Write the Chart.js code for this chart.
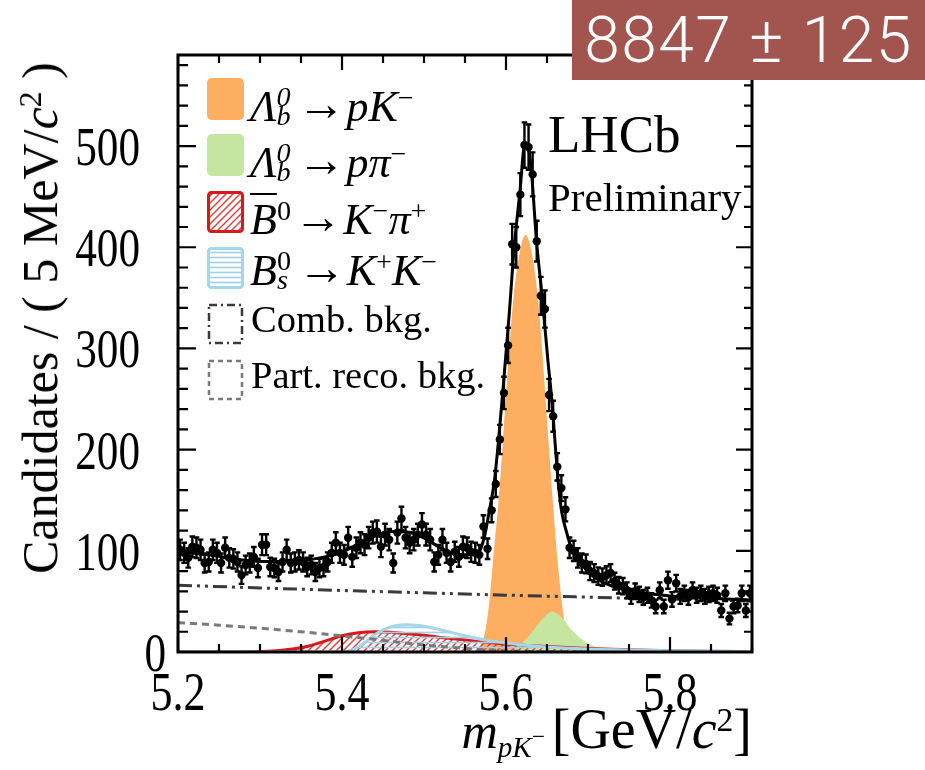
<!DOCTYPE html>
<html>
<head>
<meta charset="utf-8">
<script src="https://cdn.jsdelivr.net/npm/chart.js@4.4.0/dist/chart.umd.min.js"></script>
<style>
  body { margin: 0; background: #fff; }
  #wrap { position: relative; width: 925px; height: 770px; overflow: hidden; }
  #plot { position: absolute; left: 0; top: 0; }
  .txt { position: absolute; font-family: 'Liberation Serif', 'Times New Roman', serif; color: #000; line-height: 1; white-space: nowrap; }
  .sp, .sb { position: relative; font-size: 0.64em; line-height: 1; }
  .sp { top: -0.5em; }
  .sb { top: 0.3em; }
  .ss { display: inline-block; position: relative; width: 0.4em; height: 1px; }
  .ss span { position: absolute; left: 0; font-size: 0.64em; line-height: 1; }
  .ss .u { bottom: 0.36em; }
  .ss .d { bottom: -0.32em; }
  .ar { display: inline-block; font-style: normal; font-size: 1.1em; margin: 0 0.02em 0 0.06em; position: relative; top: -0.02em; }
  #box { position: absolute; left: 572px; top: 0; width: 353px; height: 80px; background: #a2544e;
         color: #fff; font-family: Roboto, 'Open Sans', sans-serif; font-weight: 300; font-size: 64px;
         display: flex; align-items: center; justify-content: center; letter-spacing: 1.5px; }
</style>
</head>
<body>
<div id="wrap">
  <canvas id="plot" width="925" height="770"></canvas>

  <div class="txt" style="left:250px; top:81px; font-size:44px"><i>Λ</i><span class="ss"><span class="u"><i>0</i></span><span class="d"><i>b</i></span></span><span class="ar">→</span><i>pK</i><span class="sp">−</span></div>
  <div class="txt" style="left:250px; top:137px; font-size:44px"><i>Λ</i><span class="ss"><span class="u"><i>0</i></span><span class="d"><i>b</i></span></span><span class="ar">→</span><i>pπ</i><span class="sp">−</span></div>
  <div class="txt" style="left:250px; top:194px; font-size:44px"><i style="text-decoration:overline; text-decoration-thickness:2px">B</i><span class="sp">0</span><span class="ar">→</span><i>K</i><span class="sp">−</span><i>π</i><span class="sp">+</span></div>
  <div class="txt" style="left:250px; top:245px; font-size:44px"><i>B</i><span class="ss"><span class="u">0</span><span class="d"><i>s</i></span></span><span class="ar">→</span><i>K</i><span class="sp">+</span><i>K</i><span class="sp">−</span></div>
  <div class="txt" style="left:251px; top:300px; font-size:38.5px">Comb. bkg.</div>
  <div class="txt" style="left:251px; top:356px; font-size:38.5px">Part. reco. bkg.</div>

  <div class="txt" style="left:548px; top:108px; font-size:53px">LHCb</div>
  <div class="txt" style="left:548px; top:177px; font-size:41px">Preliminary</div>

  <div class="txt" style="right:173px; top:701px; font-size:56px"><i style="font-size:0.9em">m</i><span class="sb" style="font-size:0.52em"><i>pK</i></span><span class="sp" style="font-size:0.42em; top:-0.15em">−</span><span style="margin-left:0.12em">[GeV/<i>c</i><span class="sp" style="font-size:0.6em">2</span>]</span></div>
  <div class="txt" style="left:40px; top:318px; font-size:50px; transform: translate(-50%, -50%) rotate(-90deg)">Candidates / ( 5 MeV/<i>c</i><span class="sp">2</span> )</div>

  <div id="box">8847 ± 125</div>
</div>

<script>
// binning of the histogram
const massMin = 5.2;
const massMax = 5.9;
const binWidth = 0.005;

// candidates per 5 MeV bin
const counts = [
  101, 98, 93, 104, 103, 101, 88, 89, 101, 98,
  88, 103, 93, 92, 89, 76, 86, 88, 94, 83,
  106, 106, 84, 83, 79, 89, 101, 88, 89, 91,
  89, 84, 86, 79, 83, 84, 89, 98, 108, 98,
  96, 113, 94, 103, 108, 106, 113, 118, 119, 104,
  116, 111, 88, 118, 132, 113, 108, 111, 116, 126,
  116, 111, 89, 96, 111, 98, 89, 99, 94, 104,
  103, 99, 98, 96, 124, 102, 140, 166, 210, 256,
  303, 403, 400, 452, 501, 499, 472, 406, 352, 339,
  254, 233, 183, 162, 141, 103, 100, 93, 88, 87,
  80, 78, 75, 74, 76, 78, 70, 66, 65, 61,
  55, 60, 57, 54, 56, 51, 45, 61, 45, 71,
  52, 68, 55, 58, 54, 61, 56, 58, 55, 57,
  58, 56, 41, 58, 33, 45, 46, 58, 41, 58
];

// total fit
const totalX = [5.200, 5.237, 5.278, 5.302, 5.334, 5.358, 5.379, 5.398, 5.418, 5.438, 5.459, 5.479, 5.499, 5.520, 5.535, 5.550, 5.562, 5.568, 5.574, 5.580, 5.586, 5.591, 5.596, 5.604, 5.610, 5.617, 5.623, 5.628, 5.632, 5.637, 5.644, 5.651, 5.656, 5.660, 5.664, 5.668, 5.674, 5.680, 5.690, 5.706, 5.730, 5.772, 5.812, 5.850, 5.900];
const totalY = [99, 96, 91, 89.5, 89.5, 91, 94, 98, 106, 114, 119, 118.5, 113, 103, 97.5, 96, 96.5, 100, 115, 141, 170, 210, 256, 335, 400, 455, 502, 495, 465, 408, 352, 289, 248, 205, 165, 138, 118, 102, 89, 75, 65, 58, 54.5, 53, 51.5];

// Lambda_b -> p K
const lbPKX = [5.563, 5.569, 5.575, 5.580, 5.585, 5.591, 5.596, 5.604, 5.609, 5.618, 5.624, 5.630, 5.639, 5.644, 5.652, 5.657, 5.662, 5.668, 5.673, 5.678, 5.683];
const lbPKY = [0, 6, 22, 52, 98, 150, 206, 300, 349, 400, 412, 400, 349, 300, 206, 150, 98, 50, 20, 5, 0];

// Lambda_b -> p pi
const lbPPiX = [5.590, 5.600, 5.615, 5.625, 5.635, 5.645, 5.656, 5.667, 5.680, 5.695, 5.710, 5.730, 5.760, 5.800, 5.900];
const lbPPiY = [0, 1, 6, 13, 23, 33, 40, 35, 22, 11, 5, 1.5, 0.3, 0, 0];

// B0 -> K pi (misidentified)
const b0X = [5.200, 5.280, 5.310, 5.340, 5.360, 5.380, 5.400, 5.420, 5.440, 5.460, 5.480, 5.500, 5.530, 5.560, 5.600, 5.650, 5.700, 5.750, 5.800, 5.850, 5.900];
const b0Y = [0, 0, 0.8, 3, 6, 11, 16, 19, 20, 19.5, 18, 16.5, 13.5, 11, 8, 5.5, 3.5, 2.2, 1.3, 0.8, 0.5];

// Bs -> K K (misidentified)
const bsX = [5.200, 5.400, 5.410, 5.420, 5.430, 5.440, 5.450, 5.465, 5.480, 5.500, 5.520, 5.550, 5.580, 5.610, 5.650, 5.700, 5.750, 5.800, 5.900];
const bsY = [0, 0, 1.5, 5, 11, 17, 22, 26, 27, 25.5, 22, 16, 11, 8, 5, 3, 2, 1.2, 0.5];

// combinatorial background
const combX = [5.2, 5.3, 5.4, 5.5, 5.6, 5.7, 5.8, 5.9];
const combY = [66, 63.3, 60.8, 58.5, 56.2, 54.2, 52.3, 50.5];

// partially reconstructed background
const partX = [5.20, 5.25, 5.30, 5.35, 5.40, 5.45, 5.50, 5.55, 5.60, 5.65, 5.70];
const partY = [29, 26.5, 23.5, 20, 16, 11.5, 7, 3.5, 1.2, 0.3, 0];

// axis labels
const xTickLabels = [5.2, 5.4, 5.6, 5.8];
const yTickLabels = [0, 100, 200, 300, 400, 500];
const yMax = 590;

const orange = '#fdae61';
const green = '#c5e6a0';
const red = '#d7191c';
const blue = '#a6d6ea';
const serif = "'Liberation Serif', 'Times New Roman', serif";

function pts(xs, ys) {
  return xs.map((x, i) => ({ x: x, y: ys[i] }));
}
function binCenter(i) {
  return massMin + (i + 0.5) * binWidth;
}

// hatch fills
function hatch(kind) {
  const c = document.createElement('canvas');
  const g = c.getContext('2d');
  if (kind === 'diag') {
    c.width = 7; c.height = 7;
    g.strokeStyle = '#e23a3a'; g.lineWidth = 1.4;
    g.beginPath();
    g.moveTo(-1, 8); g.lineTo(8, -1);
    g.moveTo(-1, 1); g.lineTo(1, -1);
    g.moveTo(6, 8); g.lineTo(8, 6);
    g.stroke();
  } else {
    c.width = 6; c.height = 5;
    g.strokeStyle = '#9fd0e6'; g.lineWidth = 1.6;
    g.beginPath(); g.moveTo(0, 2.5); g.lineTo(6, 2.5); g.stroke();
  }
  return g.createPattern(c, 'repeat');
}
const redHatch = hatch('diag');
const blueHatch = hatch('horiz');

const combDash = [14, 5, 3, 5, 3, 5];
const partDash = [7, 5];

function roundRect(ctx, x, y, w, h, r) {
  ctx.beginPath();
  ctx.moveTo(x + r, y);
  ctx.arcTo(x + w, y, x + w, y + h, r);
  ctx.arcTo(x + w, y + h, x, y + h, r);
  ctx.arcTo(x, y + h, x, y, r);
  ctx.arcTo(x, y, x + w, y, r);
  ctx.closePath();
}

// narrow tick label text, the plot's labels are set tighter than plain Times
function narrowText(ctx, text, x, y, align) {
  const sx = 0.8;
  const w = ctx.measureText(text).width * sx;
  let left = x;
  if (align === 'right') left = x - w;
  else if (align === 'center') left = x - w / 2;
  ctx.save();
  ctx.translate(left, y);
  ctx.scale(sx, 1);
  ctx.textAlign = 'left';
  ctx.fillText(text, 0, 0);
  ctx.restore();
}

const framePlugin = {
  id: 'framePlugin',
  afterDatasetsDraw(chart) {
    const { ctx, scales: { x, y } } = chart;
    // Poisson error bars on the data points
    ctx.save();
    ctx.strokeStyle = '#000';
    ctx.lineWidth = 2.4;
    counts.forEach((n, i) => {
      const px = x.getPixelForValue(binCenter(i));
      const e = Math.sqrt(n);
      const t = y.getPixelForValue(n + e);
      const b = y.getPixelForValue(n - e);
      ctx.beginPath();
      ctx.moveTo(px, t); ctx.lineTo(px, b);
      ctx.moveTo(px - 2.8, t); ctx.lineTo(px + 2.8, t);
      ctx.moveTo(px - 2.8, b); ctx.lineTo(px + 2.8, b);
      ctx.stroke();
    });
    ctx.restore();
  },
  afterDraw(chart) {
    const { ctx, chartArea: a, scales: { x, y } } = chart;
    ctx.save();
    ctx.strokeStyle = '#000';
    ctx.lineWidth = 3;
    ctx.strokeRect(a.left, a.top, a.right - a.left, a.bottom - a.top);

    // inward ticks on all four sides
    ctx.lineWidth = 2.2;
    ctx.beginPath();
    for (let k = 0; k <= 14; k++) {
      const px = x.getPixelForValue(massMin + k * 0.05);
      const len = k % 4 === 0 ? 15 : 8;
      ctx.moveTo(px, a.bottom); ctx.lineTo(px, a.bottom - len);
      ctx.moveTo(px, a.top); ctx.lineTo(px, a.top + len);
    }
    for (let k = 0; k * 20 <= yMax; k++) {
      const py = y.getPixelForValue(k * 20);
      const major = k % 5 === 0;
      ctx.moveTo(a.left, py); ctx.lineTo(a.left + (major ? 18 : 10), py);
      ctx.moveTo(a.right, py); ctx.lineTo(a.right - (major ? 16 : 8), py);
    }
    ctx.stroke();

    // tick labels
    ctx.fillStyle = '#000';
    ctx.textBaseline = 'alphabetic';
    ctx.font = '54px ' + serif;
    yTickLabels.forEach(v => {
      const py = y.getPixelForValue(v) + 19;
      // the zero label hugs the axis
      narrowText(ctx, String(v), v === 0 ? a.left - 12 : a.left - 38, py, 'right');
    });
    ctx.font = '55px ' + serif;
    xTickLabels.forEach(v => {
      narrowText(ctx, v.toFixed(1), x.getPixelForValue(v), a.bottom + 58, 'center');
    });

    // legend markers
    const bx = 207, bw = 37, bh = 42;
    const rows = [78, 134, 191, 247, 303, 359];
    ctx.lineJoin = 'round';
    roundRect(ctx, bx, rows[0], bw, bh, 5); ctx.fillStyle = orange; ctx.fill();
    roundRect(ctx, bx, rows[1], bw, bh, 5); ctx.fillStyle = green; ctx.fill();
    roundRect(ctx, bx + 1.5, rows[2] + 1.5, bw - 3, bh - 3, 3);
    ctx.fillStyle = redHatch; ctx.fill(); ctx.strokeStyle = red; ctx.lineWidth = 3; ctx.stroke();
    roundRect(ctx, bx + 1.5, rows[3] + 1.5, bw - 3, bh - 3, 3);
    ctx.fillStyle = blueHatch; ctx.fill(); ctx.strokeStyle = blue; ctx.lineWidth = 3; ctx.stroke();
    ctx.lineWidth = 2.5;
    ctx.strokeStyle = '#3a3a3a'; ctx.setLineDash([8, 4, 2, 4]);
    ctx.strokeRect(bx + 2, rows[4] + 2, bw - 4, bh - 4);
    ctx.strokeStyle = '#7a7a7a'; ctx.setLineDash([5, 4]);
    ctx.strokeRect(bx + 2, rows[5] + 2, bw - 4, bh - 4);
    ctx.restore();
  }
};

Chart.defaults.font.family = serif;

new Chart(document.getElementById('plot'), {
  type: 'line',
  data: {
    datasets: [
      { label: 'Lb->pK', data: pts(lbPKX, lbPKY), order: 8, fill: 'origin', backgroundColor: orange,
        borderWidth: 0, borderColor: 'rgba(0,0,0,0)', pointRadius: 0, cubicInterpolationMode: 'monotone' },
      { label: 'Lb->ppi', data: pts(lbPPiX, lbPPiY), order: 7, fill: 'origin', backgroundColor: green,
        borderWidth: 0, borderColor: 'rgba(0,0,0,0)', pointRadius: 0, cubicInterpolationMode: 'monotone' },
      { label: 'B0->Kpi', data: pts(b0X, b0Y), order: 6, fill: 'origin', backgroundColor: redHatch,
        borderWidth: 3, borderColor: red, pointRadius: 0, cubicInterpolationMode: 'monotone' },
      { label: 'Bs->KK', data: pts(bsX, bsY), order: 5, fill: 'origin', backgroundColor: blueHatch,
        borderWidth: 3, borderColor: blue, pointRadius: 0, cubicInterpolationMode: 'monotone' },
      { label: 'part reco', data: pts(partX, partY), order: 4, fill: false, borderColor: '#7a7a7a',
        borderWidth: 3, borderDash: partDash, pointRadius: 0, cubicInterpolationMode: 'monotone' },
      { label: 'comb', data: pts(combX, combY), order: 3, fill: false, borderColor: '#3a3a3a',
        borderWidth: 3, borderDash: combDash, pointRadius: 0, cubicInterpolationMode: 'monotone' },
      { label: 'total', data: pts(totalX, totalY), order: 2, fill: false, borderColor: '#000',
        borderWidth: 3, pointRadius: 0, cubicInterpolationMode: 'monotone' },
      { type: 'scatter', label: 'data', data: counts.map((n, i) => ({ x: binCenter(i), y: n })), order: 1,
        pointRadius: 4.2, pointBackgroundColor: '#000', pointBorderWidth: 0, showLine: false }
    ]
  },
  options: {
    responsive: false,
    animation: false,
    events: [],
    layout: { padding: { top: 55, right: 173, left: 0, bottom: 0 } },
    plugins: { legend: { display: false }, tooltip: { enabled: false } },
    scales: {
      x: {
        type: 'linear', min: massMin, max: massMax,
        grid: { display: false, drawTicks: false }, border: { display: false },
        afterBuildTicks: s => { s.ticks = xTickLabels.map(v => ({ value: v })); },
        afterFit: s => { s.height = 118; },
        ticks: { display: false }
      },
      y: {
        type: 'linear', min: 0, max: yMax,
        grid: { display: false, drawTicks: false }, border: { display: false },
        afterBuildTicks: s => { s.ticks = yTickLabels.map(v => ({ value: v })); },
        afterFit: s => { s.width = 178; },
        ticks: { display: false }
      }
    }
  },
  plugins: [framePlugin]
});
</script>
</body>
</html>
